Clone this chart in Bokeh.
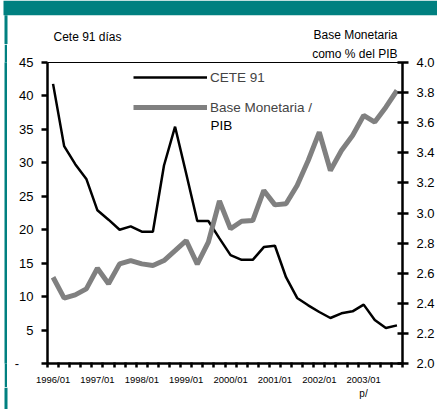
from bokeh.plotting import figure
from bokeh.layouts import column, row
from bokeh.models import (Range1d, LinearAxis, FixedTicker, Legend, LegendItem,
                          Label, BoxAnnotation, PrintfTickFormatter, Spacer)
from bokeh.embed import file_html
from bokeh.resources import INLINE

# ---- data ----
quarters = [f"{y}/{q:02d}" for y in range(1996, 2004) for q in range(1, 5)]
cete91 = [41.8, 32.5, 29.8, 27.6, 22.9, 21.5, 20.0, 20.5, 19.7, 19.7,
          29.6, 35.4, 28.4, 21.3, 21.3, 18.7, 16.2, 15.5, 15.5, 17.4,
          17.6, 12.9, 9.8, 8.7, 7.7, 6.8, 7.5, 7.8, 8.8, 6.5, 5.3, 5.7]
base_pib = [2.573, 2.434, 2.456, 2.496, 2.633, 2.530, 2.662, 2.684, 2.662, 2.651,
            2.684, 2.750, 2.817, 2.660, 2.806, 3.080, 2.895, 2.945, 2.950, 3.150,
            3.054, 3.061, 3.183, 3.349, 3.537, 3.282, 3.415, 3.515, 3.648, 3.604,
            3.703, 3.814]
left_ticks = [0, 5, 10, 15, 20, 25, 30, 35, 40, 45]
right_ticks = [2.0, 2.2, 2.4, 2.6, 2.8, 3.0, 3.2, 3.4, 3.6, 3.8, 4.0]
label_every = 4
series_names = ["CETE 91", "Base Monetaria /", "PIB"]
left_title = "Cete 91 días"
right_title = ["Base Monetaria", "como % del PIB"]
footnote = "p/"

FONT = "Liberation Sans"
TEAL = "#008080"
GRAY = "#808080"
W, H = 437, 409
TOP_H, FOOT_H, STRIP_W = 44, 22, 8
CH_H = H - TOP_H - FOOT_H
FRAME_TOP_PAD = 18


def blank(width, height, x0, x1, y0, y1, fill="white"):
    f = figure(width=width, height=height, output_backend="svg", toolbar_location=None,
               x_range=Range1d(x0, x1), y_range=Range1d(y1, y0),
               min_border=0, min_border_left=0, min_border_right=0,
               min_border_top=0, min_border_bottom=0)
    f.axis.visible = False
    f.grid.visible = False
    f.outline_line_color = None
    f.background_fill_color = fill
    f.border_fill_color = fill
    return f


def teal_box(f, **kw):
    f.add_layout(BoxAnnotation(fill_color=TEAL, fill_alpha=1, line_alpha=0,
                               line_color=None, **kw))


# ---- header (banner + axis titles) ----
top = blank(W, TOP_H, 0, W, 0, TOP_H)
teal_box(top, left=3, top=0, bottom=14.7)
teal_box(top, left=4, right=7, top=14.7)
for txt, x, y, align in [(left_title, 53, 36.5, "left"),
                         (right_title[0], 397, 34.1, "right")]:
    top.add_layout(Label(x=x, y=y, text=txt, text_align=align,
                         text_baseline="middle", text_font=FONT,
                         text_font_size="12px", text_color="black"))

# ---- left strip (solid teal 3px column) ----
strip = blank(3, CH_H, 0, 3, 0, CH_H, fill=TEAL)

# ---- footer ----
foot = blank(W, FOOT_H, 0, W, H - FOOT_H, H)
teal_box(foot, left=4, right=7)
foot.add_layout(Label(x=363, y=392.5, text=footnote, text_align="center",
                      text_baseline="middle", text_font=FONT,
                      text_font_size="10px", text_color="black"))

# ---- chart ----
xs = list(range(len(quarters)))
chart = figure(width=W - STRIP_W, height=CH_H, output_backend="svg", toolbar_location=None,
               x_range=Range1d(-0.5, len(quarters) - 0.5), y_range=Range1d(0, 45),
               min_border_left=39, min_border_right=35, min_border_top=FRAME_TOP_PAD,
               min_border_bottom=CH_H - FRAME_TOP_PAD - 301)
chart.title.text = right_title[1]
chart.title.align = "right"
chart.title.vertical_align = "top"
chart.title.offset = 5
chart.title.standoff = 0
chart.title.text_font = FONT
chart.title.text_font_size = "12px"
chart.title.text_font_style = "normal"
chart.title.text_color = "black"
chart.extra_y_ranges = {"bm": Range1d(2.0, 4.0)}
chart.xgrid.grid_line_color = None
chart.ygrid.grid_line_color = None
chart.outline_line_color = "black"
chart.outline_line_width = 1
chart.background_fill_color = "white"
chart.border_fill_color = "white"

xa = chart.xaxis[0]
major = xs[::label_every]
xa.ticker = FixedTicker(ticks=major, minor_ticks=[i - 0.5 for i in range(len(quarters) + 1)])
xa.major_label_overrides = {i: quarters[i] for i in major}
xa.major_tick_line_color = None
xa.major_tick_out = 4
xa.major_tick_in = 0
xa.minor_tick_line_color = "black"
xa.minor_tick_line_width = 2.5
xa.minor_tick_out = 4
xa.minor_tick_in = 1
xa.axis_line_width = 2.5
xa.major_label_text_font = FONT
xa.major_label_text_font_size = "9.5px"
xa.major_label_text_color = "black"
xa.major_label_standoff = 6

ya = chart.yaxis[0]
ya.ticker = FixedTicker(ticks=left_ticks)
ya.major_label_overrides = {0: "-\u00a0\u00a0\u00a0\u00a0"}
ya.axis_line_width = 2.5
ya.major_tick_line_width = 2.5
ya.major_tick_out = 6
ya.major_tick_in = 0
ya.major_label_standoff = 8
ya.major_label_text_font = FONT
ya.major_label_text_font_size = "13px"
ya.major_label_text_color = "black"

ra = LinearAxis(y_range_name="bm", ticker=FixedTicker(ticks=right_ticks),
                formatter=PrintfTickFormatter(format="%.1f"))
ra.axis_line_width = 2.5
ra.major_tick_line_width = 2.5
ra.major_tick_out = 6
ra.major_tick_in = 5
ra.major_label_standoff = 8
ra.major_label_text_font = FONT
ra.major_label_text_font_size = "13px"
ra.major_label_text_color = "black"
chart.add_layout(ra, "right")

r1 = chart.line(xs, cete91, line_color="black", line_width=2.5)
r2 = chart.line(xs, base_pib, line_color=GRAY, line_width=5, y_range_name="bm")

legend = Legend(items=[LegendItem(label=series_names[0], renderers=[r1]),
                       LegendItem(label=series_names[1], renderers=[r2])],
                location=(86, 246), glyph_width=74, glyph_height=20, label_height=20,
                label_standoff=3, spacing=10, padding=0, margin=0,
                border_line_alpha=0, background_fill_alpha=0,
                label_text_font=FONT, label_text_font_size="13.5px")
chart.add_layout(legend)
chart.add_layout(Label(x=163, y=238, x_units="screen", y_units="screen",
                       text=series_names[2], text_align="left", text_baseline="middle",
                       text_font=FONT, text_font_size="13.5px", text_color="black"))

mid = row(Spacer(width=4, height=CH_H), strip, Spacer(width=1, height=CH_H), chart)
p = column(top, mid, foot)
open("out.html", "w").write(file_html(p, INLINE))
